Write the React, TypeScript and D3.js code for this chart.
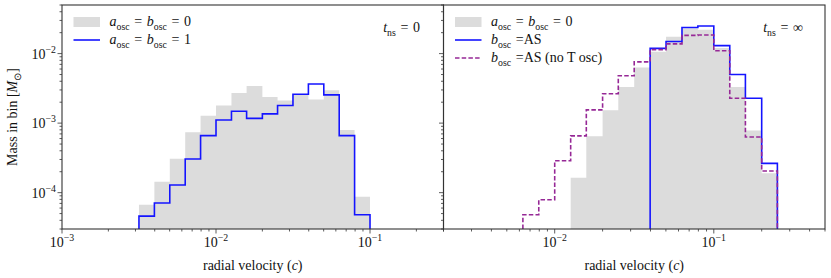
import React, { useEffect, useRef } from 'react';
import * as d3 from 'd3';

// bin edges (radial velocity, c)
const leftEdges = [0.00316, 0.00398, 0.00501, 0.00631, 0.00794, 0.01, 0.0126, 0.0158, 0.02, 0.0251, 0.0316, 0.0398, 0.0501, 0.0631, 0.0794, 0.1];
const rightEdges = [0.00631, 0.00794, 0.01, 0.0126, 0.0158, 0.02, 0.0251, 0.0316, 0.0398, 0.0501, 0.0631, 0.0794, 0.1, 0.126, 0.158, 0.2, 0.251];

// mass in bin (M_sun), t_ns = 0
const leftNoOsc = [6.7e-5, 1.43e-4, 3.08e-4, 7.4e-4, 1.28e-3, 1.79e-3, 2.72e-3, 3.43e-3, 2.38e-3, 2.11e-3, 2.63e-3, 2.18e-3, 2.97e-3, 7.98e-4, 8.7e-5];
const leftOsc1 = [4.6e-5, 7.1e-5, 1.29e-4, 3.05e-4, 6.6e-4, 1.11e-3, 1.48e-3, 1.17e-3, 1.36e-3, 1.79e-3, 2.6e-3, 3.66e-3, 2.55e-3, 6.6e-4, 4.8e-5];

// mass in bin (M_sun), t_ns = inf  (0 = empty bin)
const rightNoOsc = [0, 0, 0, 1.64e-4, 6.45e-4, 1.53e-3, 3.3e-3, 6.3e-3, 1.06e-2, 1.74e-2, 2.29e-2, 2.2e-2, 1.2e-2, 3.3e-3, 7.8e-4, 1.9e-4];
const rightAS = [0, 0, 0, 0, 0, 0, 0, 0, 1.19e-2, 1.49e-2, 2.37e-2, 2.5e-2, 1.3e-2, 5.0e-3, 2.28e-3, 2.64e-4];
const rightASnoT = [4.8e-5, 7.9e-5, 2.88e-4, 6.55e-4, 1.55e-3, 2.65e-3, 4.8e-3, 7.6e-3, 1.14e-2, 1.38e-2, 1.83e-2, 1.85e-2, 1.1e-2, 2.28e-3, 6.3e-4, 2.05e-4];

const yTickExps = [-4, -3, -2];
const xTickExps = [-3, -2, -1];

const FONT = '"Liberation Serif", "Times New Roman", serif';
const FS = 14;
const GRAY = '#dcdcdc';
const BLUE = '#1414ff';
const PURPLE = '#962896';
const EQ = '\u2004=\u2004';

type Part = { t: string; it?: boolean; sub?: boolean; sup?: boolean };

function richText(g: any, x: number, y: number, parts: Part[], size: number, anchor = 'start') {
  const txt = g.append('text')
    .attr('x', x).attr('y', y)
    .attr('font-size', size)
    .attr('font-family', FONT)
    .attr('text-anchor', anchor)
    .style('white-space', 'pre')
    .attr('fill', '#111');
  let shift = 0;
  parts.forEach(p => {
    const target = p.sub ? size * 0.28 : p.sup ? -size * 0.42 : 0;
    const ts = txt.append('tspan').text(p.t).attr('dy', target - shift);
    shift = target;
    if (p.sub || p.sup) ts.attr('font-size', size * 0.7);
    if (p.it) ts.attr('font-style', 'italic');
  });
  return txt;
}

function stepPoints(edges: number[], vals: number[], floor: number) {
  const idx = vals.map((v, i) => (v > 0 ? i : -1)).filter(i => i >= 0);
  const first = idx[0];
  const last = idx[idx.length - 1];
  const pts: [number, number][] = [[edges[first], floor]];
  for (let i = first; i <= last; i++) {
    pts.push([edges[i], vals[i]]);
    pts.push([edges[i + 1], vals[i]]);
  }
  pts.push([edges[last + 1], floor]);
  return pts;
}

function App() {
  const ref = useRef<SVGSVGElement>(null);

  useEffect(() => {
    const svg = d3.select(ref.current);
    svg.selectAll('*').remove();

    const top = 5, bottom = 229;
    const panelW = 381.5;
    const yDomain: [number, number] = [3e-5, 5e-2];
    const y = d3.scaleLog().domain(yDomain).range([bottom, top]).clamp(true);

    const abEq = (n: string): Part[] => [{ t: 'a', it: true }, { t: 'osc', sub: true }, { t: EQ }, { t: 'b', it: true }, { t: 'osc', sub: true }, { t: EQ + n }];

    const panels = [
      {
        x0: 62, domain: [1e-3, 0.3], edges: leftEdges,
        fill: leftNoOsc,
        lines: [{ vals: leftOsc1, color: BLUE, dash: null }],
        legend: [
          { kind: 'patch', parts: abEq('0') },
          { kind: 'line', color: BLUE, dash: null, parts: abEq('1') },
        ],
        tlabel: [{ t: 't', it: true }, { t: 'ns', sub: true }, { t: EQ + '0' }],
        tx: 420,
        yLabels: true,
      },
      {
        x0: 443.5, domain: [2e-3, 0.5], edges: rightEdges,
        fill: rightNoOsc,
        lines: [
          { vals: rightAS, color: BLUE, dash: null },
          { vals: rightASnoT, color: PURPLE, dash: '4.5,2.2' },
        ],
        legend: [
          { kind: 'patch', parts: abEq('0') },
          { kind: 'line', color: BLUE, dash: null, parts: [{ t: 'b', it: true }, { t: 'osc', sub: true }, { t: '\u2004=AS' }] },
          { kind: 'line', color: PURPLE, dash: '4.5,2.2', parts: [{ t: 'b', it: true }, { t: 'osc', sub: true }, { t: '\u2004=AS (no T osc)' }] },
        ],
        tlabel: [{ t: 't', it: true }, { t: 'ns', sub: true }, { t: EQ + '∞' }],
        tx: 803,
        yLabels: false,
      },
    ];

    panels.forEach((p, pi) => {
      const x = d3.scaleLog().domain(p.domain).range([p.x0, p.x0 + panelW]);
      const g = svg.append('g');
      const clipId = `clip${pi}`;
      g.append('clipPath').attr('id', clipId)
        .append('rect').attr('x', p.x0).attr('y', top).attr('width', panelW).attr('height', bottom - top);

      const body = g.append('g').attr('clip-path', `url(#${clipId})`);
      const line = d3.line<[number, number]>().x(d => x(d[0])).y(d => y(d[1]));

      body.append('path')
        .attr('d', line(stepPoints(p.edges, p.fill, yDomain[0])) + 'Z')
        .attr('fill', GRAY)
        .attr('stroke', 'none');

      p.lines.forEach(l => {
        body.append('path')
          .attr('d', line(stepPoints(p.edges, l.vals, yDomain[0])))
          .attr('fill', 'none')
          .attr('stroke', l.color)
          .attr('stroke-width', 1.6)
          .attr('stroke-dasharray', l.dash)
          .attr('stroke-linejoin', 'miter');
      });

      // frame
      g.append('rect')
        .attr('x', p.x0).attr('y', top).attr('width', panelW).attr('height', bottom - top)
        .attr('fill', 'none').attr('stroke', '#333').attr('stroke-width', 1.1);

      // x ticks
      x.ticks().forEach(v => {
        const major = xTickExps.some(e => Math.abs(v / Math.pow(10, e) - 1) < 1e-9);
        g.append('line')
          .attr('x1', x(v)).attr('x2', x(v))
          .attr('y1', bottom).attr('y2', bottom + (major ? 4.5 : 2.5))
          .attr('stroke', '#333').attr('stroke-width', 0.8);
      });
      xTickExps.forEach(e => {
        const v = Math.pow(10, e);
        if (v < p.domain[0] || v > p.domain[1]) return;
        richText(g, x(v), 247, [{ t: '10' }, { t: '\u2212' + Math.abs(e), sup: true }], FS, 'middle');
      });

      // y ticks
      y.ticks().forEach(v => {
        const major = yTickExps.some(e => Math.abs(v / Math.pow(10, e) - 1) < 1e-9);
        g.append('line')
          .attr('x1', p.x0 - (major ? 4.5 : 2.5)).attr('x2', p.x0)
          .attr('y1', y(v)).attr('y2', y(v))
          .attr('stroke', '#333').attr('stroke-width', 0.8);
      });
      if (p.yLabels) {
        yTickExps.forEach(e => {
          richText(g, p.x0 - 6, y(Math.pow(10, e)) + 5, [{ t: '10' }, { t: '\u2212' + Math.abs(e), sup: true }], FS, 'end');
        });
      }

      // x label
      richText(g, p.x0 + panelW / 2, 270, [{ t: 'radial velocity (' }, { t: 'c', it: true }, { t: ')' }], FS, 'middle');

      // legend
      p.legend.forEach((item: any, i) => {
        const cy = 22 + i * 18;
        const lx = p.x0 + 11.5;
        if (item.kind === 'patch') {
          g.append('rect').attr('x', lx).attr('y', cy - 5).attr('width', 26.5).attr('height', 10).attr('fill', GRAY);
        } else {
          g.append('line').attr('x1', lx).attr('x2', lx + 26.5).attr('y1', cy).attr('y2', cy)
            .attr('stroke', item.color).attr('stroke-width', 1.6).attr('stroke-dasharray', item.dash);
        }
        richText(g, lx + 36, cy + 4, item.parts, FS, 'start');
      });

      richText(g, p.tx, 32, p.tlabel, FS, 'end');
    });

    // y label
    const yl = richText(svg, 0, 0, [{ t: 'Mass in bin [' }, { t: 'M', it: true }, { t: '\u2299', sub: true }, { t: ']' }], FS, 'middle');
    yl.attr('transform', `translate(17,${(top + bottom) / 2}) rotate(-90)`);
  }, []);

  return (
    <svg ref={ref} width={831} height={278}
      style={{ position: 'absolute', left: 0, top: 0, background: '#fff' }} />
  );
}

export default App;
